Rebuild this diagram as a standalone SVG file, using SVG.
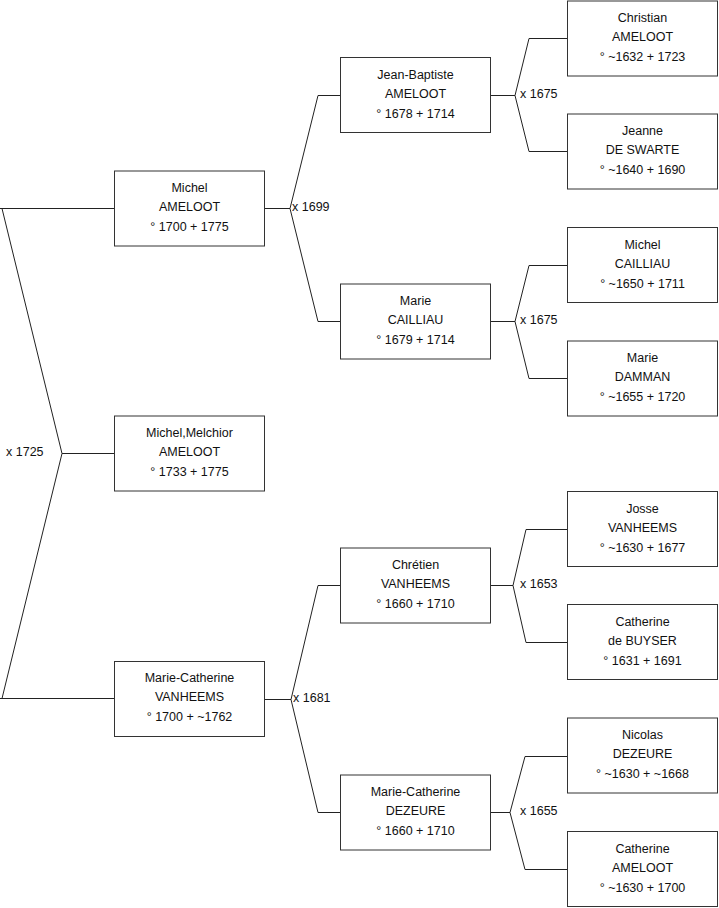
<svg xmlns="http://www.w3.org/2000/svg" width="719" height="908" viewBox="0 0 719 908">
<style>
rect.b{fill:#fff;stroke:#333;stroke-width:1}
text{font-family:"Liberation Sans",Arial,sans-serif;font-size:12.5px;fill:#111}
text.c{text-anchor:middle}
.l{fill:none;stroke:#222;stroke-width:1}
</style>
<rect width="719" height="908" fill="#fff"/>
<g id="connectors">
<path class="l" d="M0,208.5H114.5M2,208.5L62,453.5L2,698.5M0,698.5H114.5M62,453.5H114.5"/>
<path class="l" d="M264.5,208.5H290L318,95.5H340.5M290,208.5L318,321.5H340.5"/>
<path class="l" d="M264.5,699.5H291L318,585.5H340.5M291,699.5L318,812.5H340.5"/>
<path class="l" d="M490.5,95.5H515L529,38.5H567.5M515,95.5L529,151.5H567.5"/>
<path class="l" d="M490.5,321.5H515L529,265.5H567.5M515,321.5L529,378.5H567.5"/>
<path class="l" d="M490.5,585.5H513L526,529.5H567.5M513,585.5L526,642.5H567.5"/>
<path class="l" d="M490.5,812.5H510L525,756.5H567.5M510,812.5L525,869.5H567.5"/>
<text x="6" y="456">x 1725</text>
<text x="292" y="211">x 1699</text>
<text x="293" y="702">x 1681</text>
<text x="520" y="98">x 1675</text>
<text x="520" y="324">x 1675</text>
<text x="520" y="588">x 1653</text>
<text x="520" y="815">x 1655</text>
</g>
<g id="n1"><rect class="b" x="114.5" y="171" width="150" height="75"/><text class="c" x="189.5" y="191.5">Michel</text><text class="c" x="189.5" y="211">AMELOOT</text><text class="c" x="189.5" y="231">° 1700 + 1775</text></g>
<g id="n2"><rect class="b" x="114.5" y="416" width="150" height="75"/><text class="c" x="189.5" y="436.5">Michel,Melchior</text><text class="c" x="189.5" y="456">AMELOOT</text><text class="c" x="189.5" y="476">° 1733 + 1775</text></g>
<g id="n3"><rect class="b" x="114.5" y="661.5" width="150" height="75"/><text class="c" x="189.5" y="681.5">Marie-Catherine</text><text class="c" x="189.5" y="701">VANHEEMS</text><text class="c" x="189.5" y="721">° 1700 + ~1762</text></g>
<g id="n4"><rect class="b" x="340.5" y="57.5" width="150" height="75"/><text class="c" x="415.5" y="78.5">Jean-Baptiste</text><text class="c" x="415.5" y="98">AMELOOT</text><text class="c" x="415.5" y="118">° 1678 + 1714</text></g>
<g id="n5"><rect class="b" x="340.5" y="284" width="150" height="75"/><text class="c" x="415.5" y="304.5">Marie</text><text class="c" x="415.5" y="324">CAILLIAU</text><text class="c" x="415.5" y="344">° 1679 + 1714</text></g>
<g id="n6"><rect class="b" x="340.5" y="548" width="150" height="75"/><text class="c" x="415.5" y="568.5">Chrétien</text><text class="c" x="415.5" y="588">VANHEEMS</text><text class="c" x="415.5" y="608">° 1660 + 1710</text></g>
<g id="n7"><rect class="b" x="340.5" y="775" width="150" height="75"/><text class="c" x="415.5" y="795.5">Marie-Catherine</text><text class="c" x="415.5" y="815">DEZEURE</text><text class="c" x="415.5" y="835">° 1660 + 1710</text></g>
<g id="n8"><rect class="b" x="567.5" y="1" width="150" height="75"/><text class="c" x="642.5" y="21.5">Christian</text><text class="c" x="642.5" y="41">AMELOOT</text><text class="c" x="642.5" y="61">° ~1632 + 1723</text></g>
<g id="n9"><rect class="b" x="567.5" y="114" width="150" height="75"/><text class="c" x="642.5" y="134.5">Jeanne</text><text class="c" x="642.5" y="154">DE SWARTE</text><text class="c" x="642.5" y="174">° ~1640 + 1690</text></g>
<g id="n10"><rect class="b" x="567.5" y="227.5" width="150" height="75"/><text class="c" x="642.5" y="248.5">Michel</text><text class="c" x="642.5" y="268">CAILLIAU</text><text class="c" x="642.5" y="288">° ~1650 + 1711</text></g>
<g id="n11"><rect class="b" x="567.5" y="341" width="150" height="75"/><text class="c" x="642.5" y="361.5">Marie</text><text class="c" x="642.5" y="381">DAMMAN</text><text class="c" x="642.5" y="401">° ~1655 + 1720</text></g>
<g id="n12"><rect class="b" x="567.5" y="491.5" width="150" height="75"/><text class="c" x="642.5" y="512.5">Josse</text><text class="c" x="642.5" y="532">VANHEEMS</text><text class="c" x="642.5" y="552">° ~1630 + 1677</text></g>
<g id="n13"><rect class="b" x="567.5" y="604.5" width="150" height="75"/><text class="c" x="642.5" y="625.5">Catherine</text><text class="c" x="642.5" y="645">de BUYSER</text><text class="c" x="642.5" y="665">° 1631 + 1691</text></g>
<g id="n14"><rect class="b" x="567.5" y="718" width="150" height="75"/><text class="c" x="642.5" y="738.5">Nicolas</text><text class="c" x="642.5" y="758">DEZEURE</text><text class="c" x="642.5" y="778">° ~1630 + ~1668</text></g>
<g id="n15"><rect class="b" x="567.5" y="831.5" width="150" height="75"/><text class="c" x="642.5" y="852.5">Catherine</text><text class="c" x="642.5" y="872">AMELOOT</text><text class="c" x="642.5" y="892">° ~1630 + 1700</text></g>
</svg>
